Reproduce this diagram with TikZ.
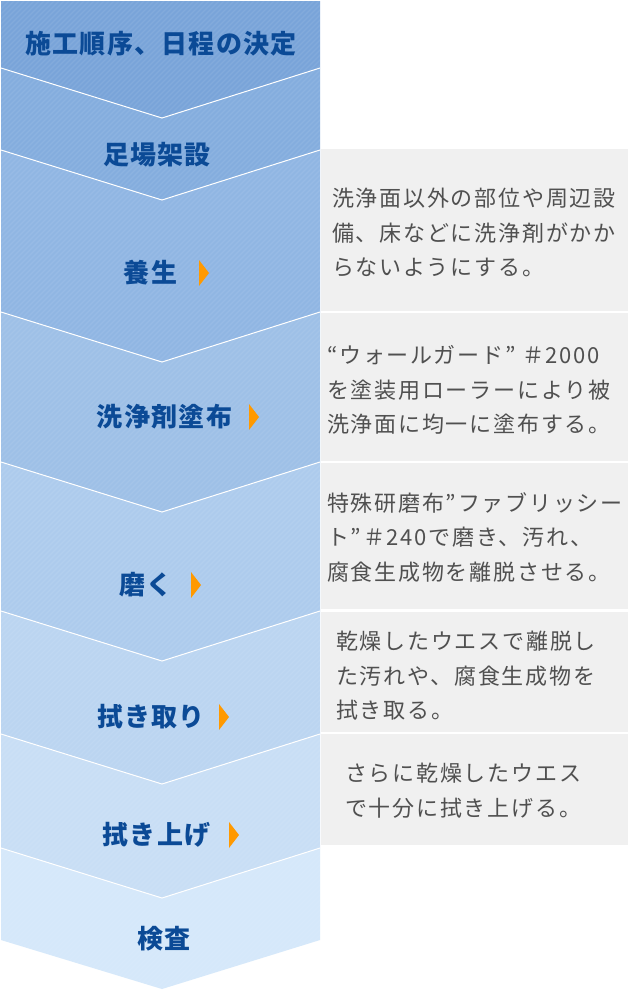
\documentclass[tikz,border=0pt]{standalone}
\usepackage{fontspec}
\newfontfamily\jplab{Noto Sans CJK JP}[LetterSpace=5]
\newfontfamily\jpdesc{Noto Sans CJK JP}[LetterSpace=8]
\definecolor{sA}{RGB}{121,164,217}
\definecolor{sB}{RGB}{132,173,222}
\definecolor{sC}{RGB}{144,182,227}
\definecolor{sD}{RGB}{158,192,231}
\definecolor{sE}{RGB}{173,203,237}
\definecolor{sF}{RGB}{187,213,241}
\definecolor{sG}{RGB}{200,222,245}
\definecolor{sH}{RGB}{213,232,250}
\definecolor{labblue}{RGB}{11,74,150}
\definecolor{desctext}{RGB}{80,80,80}
\definecolor{boxgray}{RGB}{240,240,240}
\definecolor{triorange}{RGB}{255,153,0}
\begin{document}
\begin{tikzpicture}[x=1pt,y=-1pt,
  lab/.style={font=\jplab\bfseries\fontsize{26}{30}\selectfont, text=labblue, inner sep=0pt},
  desc/.style={font=\jpdesc\fontsize{22}{34.5}\selectfont, text=desctext, align=left, anchor=west, inner sep=0pt},
  graybox/.style={fill=boxgray},
  sepline/.style={draw=white, line width=1pt},
  tri/.style={fill=triorange},
  stripe/.style={draw=white, opacity=0.08, line width=1.3pt}]
\useasboundingbox (0,0) rectangle (628,991);
\fill[white] (0,0) rectangle (628,991);
% column sections
\fill[sA] (1,1) -- (320,1) -- (320,68) -- (162,118) -- (1,68) -- cycle;
\fill[sB] (1,68) -- (162,118) -- (320,68) -- (320,150) -- (162,200) -- (1,150) -- cycle;
\fill[sC] (1,150) -- (162,200) -- (320,150) -- (320,312) -- (162,362) -- (1,312) -- cycle;
\fill[sD] (1,312) -- (162,362) -- (320,312) -- (320,462) -- (162,512) -- (1,462) -- cycle;
\fill[sE] (1,462) -- (162,512) -- (320,462) -- (320,611) -- (162,661) -- (1,611) -- cycle;
\fill[sF] (1,611) -- (162,661) -- (320,611) -- (320,734) -- (162,784) -- (1,734) -- cycle;
\fill[sG] (1,734) -- (162,784) -- (320,734) -- (320,848) -- (162,898) -- (1,848) -- cycle;
\fill[sH] (1,848) -- (162,898) -- (320,848) -- (320,940) -- (162,989) -- (1,940) -- cycle;
% stripes
\begin{scope}
\clip (1,1) -- (320,1) -- (320,940) -- (162,989) -- (1,940) -- cycle;
\foreach \c in {0,5,...,1320} \draw[stripe] (\c,0) -- (\c-1000,1000);
\end{scope}
% separators
\foreach \t in {68,150,312,462,611,734,848}
  \draw[sepline] (1,\t) -- (162,\t+50) -- (320,\t);
% gray boxes
\fill[graybox] (321,149) rectangle (628,311);
\fill[graybox] (321,313) rectangle (628,461);
\fill[graybox] (321,463) rectangle (628,609);
\fill[graybox] (321,612) rectangle (628,732);
\fill[graybox] (321,734) rectangle (628,845);
% labels
\node[lab] (l1) at (161,44) {施工順序、日程の決定};
\node[lab] (l2) at (157,155) {足場架設};
\node[lab] (l3) at (150.5,273) {養生};
\node[lab] (l4) at (164.5,417) {洗浄剤塗布};
\node[lab] (l5) at (146,585) {磨く};
\node[lab] (l6) at (151,717) {拭き取り};
\node[lab] (l7) at (156.5,835) {拭き上げ};
\node[lab] (l8) at (164,939) {検査};
% orange markers
\fill[tri] (199,260) -- (209,273) -- (199,286) -- cycle;
\fill[tri] (249,404) -- (259,417) -- (249,430) -- cycle;
\fill[tri] (191,572) -- (201,585) -- (191,598) -- cycle;
\fill[tri] (219,704) -- (229,717) -- (219,730) -- cycle;
\fill[tri] (229,822) -- (239,835) -- (229,848) -- cycle;
% descriptions
\node[desc] (d1) at (332,232.5) {洗浄面以外の部位や周辺設\\備、床などに洗浄剤がかか\\らないようにする。};
\node[desc] (d2) at (327,390) {“ウォールガード” ＃2000\\を塗装用ローラーにより被\\洗浄面に均一に塗布する。};
\node[desc] (d3) at (327,537.5) {特殊研磨布”ファブリッシー\\ト”＃240で磨き、汚れ、\\腐食生成物を離脱させる。};
\node[desc] (d4) at (336,676) {乾燥したウエスで離脱し\\た汚れや、腐食生成物を\\拭き取る。};
\node[desc] (d5) at (345,790.5) {さらに乾燥したウエス\\で十分に拭き上げる。};
\end{tikzpicture}
\end{document}
